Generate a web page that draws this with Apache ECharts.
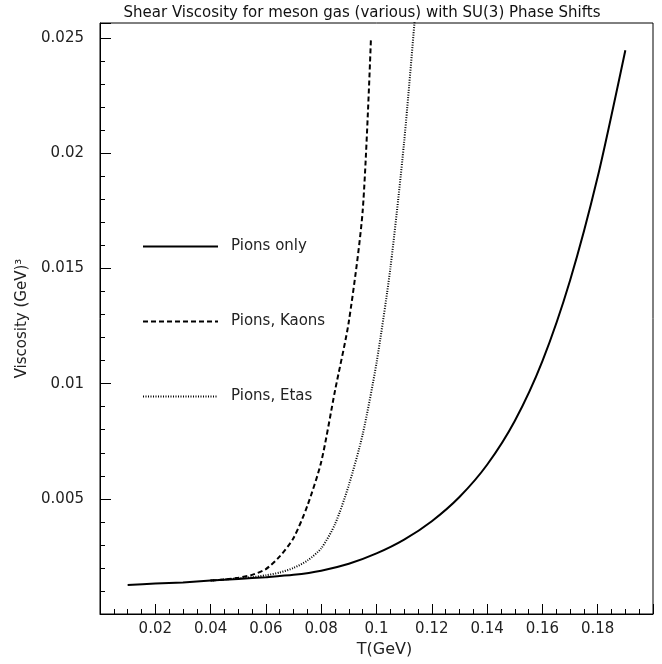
<!DOCTYPE html>
<html>
<head>
<meta charset="utf-8">
<script src="https://cdn.jsdelivr.net/npm/echarts@6/dist/echarts.min.js"></script>
<style>html,body{margin:0;padding:0;background:#fff;}#c{width:662px;height:664px;}</style>
</head>
<body>
<div id="c"></div>
<script>
// Data
var titleText = 'Shear Viscosity for meson gas (various) with SU(3) Phase Shifts';
var xName = 'T(GeV)';
var yName = 'Viscosity (GeV)\u00B3';
var seriesNames = ['Pions only', 'Pions, Kaons', 'Pions, Etas'];

var tPions = [0.01,0.02,0.03,0.04,0.05,0.06,0.07,0.08,0.09,0.10,0.11,0.12,0.13,0.14,0.15,0.16,0.17,0.18,0.19];
var vPions = [0.00126,0.00132,0.00137,0.00145,0.00152,0.00160,0.00170,0.00188,0.00218,0.00263,0.00323,0.00403,0.00508,0.00648,0.00838,0.01098,0.01448,0.01898,0.02448];

var tKaons = [0.04,0.045,0.05,0.055,0.06,0.065,0.07,0.075,0.08,0.085,0.09,0.095,0.098];
var vKaons = [0.00145,0.00150,0.00157,0.00170,0.00195,0.00250,0.00330,0.00470,0.00660,0.00970,0.01270,0.01750,0.02500];

var tEtas = [0.04,0.045,0.05,0.055,0.06,0.065,0.07,0.075,0.08,0.085,0.09,0.095,0.10,0.105,0.11,0.115];
var vEtas = [0.00145,0.00150,0.00155,0.00160,0.00168,0.00180,0.00200,0.00232,0.00285,0.00390,0.00560,0.00780,0.01090,0.01500,0.02050,0.02750];

var xTicks = [0, 0.2, 0.02];        // min, max, major step
var yTicks = [0, 0.02566, 0.005];   // min, max, major step

function pairs(t, v) { return t.map(function (x, i) { return [x, v[i]]; }); }
function fmt(v) { return String(+v.toFixed(4)); }

var chart = echarts.init(document.getElementById('c'), null, {renderer: 'canvas'});
var font = 'DejaVu Sans';
var txt = '#222';

chart.setOption({
  backgroundColor: '#fff',
  animation: false,
  title: {
    text: titleText, left: 357, top: 1, textAlign: 'center',
    textStyle: {fontFamily: font, fontSize: 15, fontWeight: 'normal', color: '#111'}
  },
  legend: {
    orient: 'vertical', left: 137, top: 234, itemWidth: 75, itemHeight: 14, itemGap: 60,
    data: seriesNames,
    itemStyle: {opacity: 0, borderWidth: 0},
    lineStyle: {width: 'inherit'},
    textStyle: {fontFamily: font, fontSize: 15, color: txt, padding: [0, 0, 0, 8]}
  },
  grid: {left: 100, top: 23, right: 9, bottom: 50, show: true, borderColor: '#000', borderWidth: 1},
  xAxis: {
    type: 'value', min: xTicks[0], max: xTicks[1], interval: xTicks[2],
    name: xName, nameLocation: 'middle', nameGap: 24,
    nameTextStyle: {fontFamily: font, fontSize: 16, color: txt, padding: [0, 0, 0, 16]},
    axisLine: {lineStyle: {color: '#000', width: 1}},
    axisTick: {inside: true, length: 10, lineStyle: {color: '#000'}},
    minorTick: {show: true, splitNumber: 4, length: 5, lineStyle: {color: '#000'}},
    splitLine: {show: false},
    axisLabel: {
      fontFamily: font, fontSize: 15, color: txt, margin: 8,
      formatter: function (v) { return (v <= 0 || v >= 0.2 - 1e-9) ? '' : fmt(v); }
    }
  },
  yAxis: [{
    type: 'value', min: yTicks[0], max: yTicks[1], interval: yTicks[2],
    name: yName, nameLocation: 'middle', nameGap: 70,
    nameTextStyle: {fontFamily: font, fontSize: 15, color: txt},
    axisLine: {lineStyle: {color: '#000', width: 1}},
    axisTick: {inside: true, length: 11, lineStyle: {color: '#000'}},
    splitLine: {show: false},
    axisLabel: {
      fontFamily: font, fontSize: 15, color: txt, margin: 16,
      formatter: function (v) {
        var k = v / yTicks[2];
        return (v <= 0 || Math.abs(k - Math.round(k)) > 1e-6) ? '' : fmt(v);
      }
    }
  }, {
    type: 'value', min: yTicks[0], max: yTicks[1], interval: yTicks[2] / 5, position: 'left',
    axisLine: {show: false},
    axisTick: {inside: true, length: 5, lineStyle: {color: '#000'}},
    splitLine: {show: false},
    axisLabel: {show: false}
  }],
  series: [{
    name: seriesNames[0], type: 'line', showSymbol: false, symbol: 'none', clip: true, smooth: 0.25,
    data: pairs(tPions, vPions),
    lineStyle: {color: '#000', width: 2, type: 'solid'}, itemStyle: {color: '#000'}
  }, {
    name: seriesNames[1], type: 'line', showSymbol: false, symbol: 'none', clip: true, smooth: 0.25,
    data: pairs(tKaons, vKaons),
    lineStyle: {color: '#000', width: 2, type: [5, 3]}, itemStyle: {color: '#000'}
  }, {
    name: seriesNames[2], type: 'line', showSymbol: false, symbol: 'none', clip: true, smooth: 0.25,
    data: pairs(tEtas, vEtas),
    lineStyle: {color: '#000', width: 2, type: [1, 1.5]}, itemStyle: {color: '#000'}
  }]
});
</script>
</body>
</html>
